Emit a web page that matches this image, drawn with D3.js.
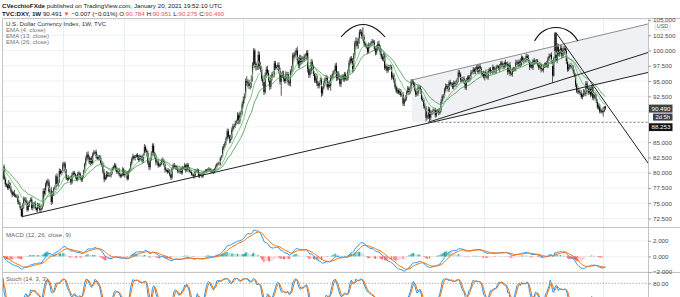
<!DOCTYPE html>
<html><head><meta charset="utf-8">
<script src="https://cdn.jsdelivr.net/npm/d3@7"></script>
<style>
body{margin:0;background:#fff}
svg{display:block}
text{font-family:"Liberation Sans",Arial,sans-serif}
</style>
</head><body>
<svg id="c" width="680" height="297"></svg>
<script>
// ---------- DATA ----------
const firstOpen = 79.0;
// weekly closes, week of 2011-01-03 .. week of 2021-01-18
const closes = [
// 2011
80.96,79.0,78.1,77.9, 77.5,78.3,77.5,76.9, 76.4,76.8,76.3,76.1, 76.2,75.2,74.9,74.2,72.9, 74.5,75.8,75.6,75.0, 73.9,74.8,75.3,75.6, 74.2,74.9,75.0,74.2,73.9, 74.6,74.6,73.9,74.1, 74.7,77.0,76.5,78.1,78.6, 78.4,76.9,77.1,75.2, 76.6,77.4,77.6,79.4, 78.1,78.6,80.3,79.9,80.2,
// 2012
81.3,81.5,80.3,79.1, 78.9,79.2,79.2,78.4, 79.6,80.0,79.7,79.3,78.9, 79.8,79.9,79.2,78.8, 79.4,80.2,81.4,82.3, 83.0,82.5,81.7,82.3,81.6, 83.0,83.3,83.4,82.7, 82.3,82.6,82.4,81.6,81.2, 80.1,78.9,79.3,79.9, 79.5,79.7,79.6,80.0, 80.6,81.0,81.2,80.6,80.1, 80.4,79.7,79.4,79.7,
// 2013
80.5,79.6,80.0,79.9, 79.0,80.2,80.5,81.5, 82.2,82.7,82.4,82.6,82.9, 82.5,82.1,82.7,82.5, 81.9,83.0,84.2,83.6,83.2, 81.6,80.9,82.2,83.1, 84.4,83.2,82.7,81.7, 81.9,81.1,81.3,81.4,82.1, 81.9,81.3,80.4,80.4, 80.1,80.4,79.7,79.2, 80.7,81.2,80.9,81.0,80.7, 80.2,80.2,80.6,80.0,
// 2014
80.8,80.7,81.2,80.4,81.3, 80.7,80.2,80.2,79.7, 79.7,79.4,80.2,80.2, 80.4,79.4,79.8,79.8, 79.4,79.9,80.1,80.3,80.4, 80.5,80.6,80.4,80.1, 80.3,80.1,80.6,81.0, 81.4,81.5,81.4,82.3,82.7, 84.0,84.3,84.8,85.6, 86.8,85.9,85.3,85.7,87.0, 87.6,87.6,88.1,88.4, 89.4,88.4,89.5,89.8,
// 2015
91.2,91.9,92.5,95.0,94.8, 94.6,94.1,94.4,95.3, 97.6,100.0,97.8,97.3, 97.4,99.3,97.5,96.9, 95.4,94.8,93.2,96.0,96.9, 96.3,95.2,94.1,95.5, 96.1,96.1,97.9,97.2,97.3, 97.6,96.6,94.9,95.9, 96.2,95.4,95.0,96.1, 96.1,94.8,94.6,96.6,96.9, 99.2,99.0,99.6,100.0, 98.4,97.6,98.7,98.1,
// 2016
98.7,98.5,99.0,99.0,99.6, 97.0,96.0,96.6,98.1, 97.3,96.2,95.1,95.8, 94.6,94.2,94.7,95.1,93.0, 93.9,94.6,95.3,95.5, 94.0,94.6,94.2,95.5, 95.7,96.3,96.6,97.5,95.5, 96.2,95.7,94.5,95.5, 95.8,95.3,96.1,95.4,95.4, 96.6,98.0,98.7,98.3, 97.0,99.2,101.2,101.5, 100.7,101.6,103.0,103.0,102.2,
// 2017
102.2,101.2,100.8,100.6, 99.8,100.8,100.9,101.1, 101.5,101.3,100.3,99.7,100.4, 101.1,100.5,99.8,99.0, 98.6,99.2,97.1,97.4, 96.7,97.3,97.2,97.3,95.6, 96.0,95.1,94.0,93.3, 93.5,93.1,93.4,92.7, 92.8,91.3,91.9,92.2,93.1, 93.8,93.1,93.7,94.9, 94.8,94.4,93.6,92.8, 93.0,93.9,93.9,93.3,92.1,
// 2018
91.9,90.9,90.6,89.0, 89.2,90.4,89.0,89.8, 89.9,90.1,90.2,89.4,90.0, 90.1,89.8,90.3,91.6, 92.5,92.5,93.6,94.2, 94.1,93.6,94.8,94.5,94.5, 94.0,94.7,94.4,94.7, 95.2,96.4,96.1,95.2,95.1, 95.4,94.9,93.9,95.1, 95.6,95.2,95.7,96.4, 96.5,96.9,96.5,96.9,97.3, 96.5,97.4,97.0,96.3,
// 2019
96.2,95.6,96.4,95.8, 95.6,96.6,96.9,96.5, 96.5,97.3,96.6,96.6,97.3, 97.4,97.0,97.4,98.0, 97.5,97.3,98.0,97.6,97.8, 96.5,97.6,96.2,96.1, 96.9,96.8,97.1,98.0, 98.1,97.5,98.2,97.7,98.9, 98.4,98.3,98.5,99.1, 98.8,98.3,97.3,97.8, 97.2,98.4,98.0,98.3,98.3, 97.7,97.2,97.7,96.9,
// 2020
96.8,97.4,97.6,97.9,97.4, 98.7,99.1,99.3,98.1, 95.9,98.7,102.8,98.4, 100.6,99.5,99.8,100.4, 99.1,99.7,100.4,99.9,98.3, 96.9,97.3,97.6,97.4, 97.2,96.6,95.9,94.4,93.3, 93.4,93.1,93.2,92.4, 92.7,93.3,92.9,94.6, 93.8,93.1,93.7,92.8,94.0, 92.2,92.8,92.4,91.8, 90.7,91.0,90.0,90.2,
// 2021
89.9,90.1,90.78,90.49
];
// upper / lower wick lengths per week, in tenths (base-36 digits), grouped by month, one string per year
const wickUp = [
"1432 3523 3242 32334 5324 3423 43242 5443 24532 4536 4233 53432",
"4333 3423 43323 3423 2324 45324 3424 32343 4534 3432 32433 3432",
"4332 3223 34232 3432 32533 4534 4423 32342 4323 3323 23432 3432",
"32423 3232 2342 3232 23232 2323 2323 23232 3433 44354 4343 5454",
"46548 5646 5434 5656 54645 6545 45443 4565 5545 44536 4544 6566",
"43454 5445 4445 44354 3434 4355 44345 4434 33434 3434 5447 55454",
"g434 4534 43445 4545 4543 34343 4343 4343 34453 4344 4343 34434",
"4343 3434 34343 3434 3434 34343 3434 34434 3434 3434 34343 4343",
"3525 2434 34253 3243 34253 4352 3425 34353 2434 3524 32423 3242",
"23424 3424 3321 6545 45434 4534 34343 4343 3434 43434 5434 3434",
"3612"
];
const wickDn = [
"1243 3323 4232 34231 2433 3242 34323 4534 23424 5345 3424 34323",
"3343 3234 34233 3423 3223 34352 3234 23423 3524 3234 32343 3332",
"3242 3233 32342 4323 33245 3542 3445 43232 3343 3234 32343 3243",
"32343 3232 3423 3232 32223 2232 2322 32222 2323 34543 3433 4545",
"45536 6455 4576 5654 46535 5464 45543 545n 4544 55454 4534 6555",
"34455 6545 5444 44436 4343 4538 44345 4545 34434 3434 6455 44543",
"6433 4343 43454 4354 3434 43434 3433 4343 34434 3434 3434 34343",
"3436 3474 34343 3434 3434 43434 3434 34543 3434 3434 34343 3434",
"4253 3424 24343 3253 24342 5342 4325 43242 3424 4352 24324 3425",
"24342 3423 c241 5454 43435 4343 34343 4343 4334 34343 3434 3433",
"2722"
];
const priceGridLevels = [72.5,75,77.5,80,82.5,85,87.5,90,92.5,95,97.5,100,102.5,105];
const priceTicks = [72.5,75,77.5,80,82.5,85,92.5,95,97.5,100,102.5,105];
const macdTicks = [2,0,-2];
const stochTicks = [80];
const yearStarts = [2012,2013,2014,2015,2016,2017,2018,2019,2020,2021];
const startDate = Date.UTC(2011,0,3);
const lastPrice = 90.490, countdown = "2d 5h", markedLevel = 88.253;
// drawings, in [week index, price]
const supportLine = [[16.3,72.79],[561,96.40]];
const lowLine2018 = [[369.7,88.25],[561,99.67]];
const channelTop = [[355.5,95.17],[561,104.34]];
const channelArea = [[355.5,95.17],[561,104.34],[561,96.4],[371,88.2],[355.5,88.3]];
const fallLine2020 = [[480.7,103.0],[561,81.58]];
const levelLine = [[371,88.253],[561,88.253]];
const arc2017 = [[294.0,102.21],[300.9,103.44],[313.1,104.26],[325.3,103.44],[332.3,102.21]];
const arc2020 = [[462.3,101.56],[468.8,103.03],[481.0,103.76],[493.2,103.03],[500.1,101.56]];

// ---------- BUILD ----------
function wicks(list){
  return list.join("").replace(/\s/g,"").split("").map(ch=>parseInt(ch,36)/10);
}
const wu=wicks(wickUp), wd=wicks(wickDn);
const bars = closes.map((c,i)=>{
  const o = i===0?firstOpen:closes[i-1];
  return {i,o,c,h:Math.max(o,c)+(wu[i]??0.3),l:Math.min(o,c)-(wd[i]??0.3)};
});
function ema(arr,n){const k=2/(n+1);const out=[];arr.forEach((v,i)=>out.push(i===0?v:v*k+out[i-1]*(1-k)));return out;}
const cl = bars.map(b=>b.c);
const e4=ema(cl,4), e13=ema(cl,13), e26=ema(cl,26);
const e12=ema(cl,12);
const macd = e12.map((v,i)=>v-e26[i]);
const sig = ema(macd,9);
const hist = macd.map((v,i)=>v-sig[i]);
const rawK = bars.map((b,i)=>{const w=bars.slice(Math.max(0,i-13),i+1);const hh=d3.max(w,d=>d.h),ll=d3.min(w,d=>d.l);return hh===ll?50:100*(b.c-ll)/(hh-ll);});
const sma=(a,n)=>a.map((v,i)=>d3.mean(a.slice(Math.max(0,i-n+1),i+1)));
const kS=sma(rawK,3), dS=sma(kS,3);

// ---------- SCALES ----------
const svg=d3.select("#c");
const L=2.5,R=648.5;
const x=d3.scaleLinear().domain([0,561]).range([3,648]);
const y=d3.scaleLinear().domain([72.5,100]).range([218.5,50.5]);
const yM=d3.scaleLinear().domain([-2,2]).range([272,240.8]);
const yS=d3.scaleLinear().domain([0,100]).range([309.7,276.7]);
const panes={main:[18.5,227.5],macd:[227.5,272.5],st:[272.5,297]};
const FONT='"Liberation Sans",Arial,sans-serif';

const defs=svg.append("defs");
Object.entries(panes).forEach(([k,[t,b]])=>{
  defs.append("clipPath").attr("id","cp-"+k).append("rect").attr("x",L).attr("y",t).attr("width",R-L).attr("height",b-t);
});
const gMain=svg.append("g").attr("clip-path","url(#cp-main)");
const gMacd=svg.append("g").attr("clip-path","url(#cp-macd)");
const gSt=svg.append("g").attr("clip-path","url(#cp-st)");

// grid
const yearIdx=yearStarts.map(yr=>Math.ceil((Date.UTC(yr,0,1)-startDate)/(7*864e5)));
[gMain,gMacd,gSt].forEach((g,k)=>{
  const p=Object.values(panes)[k];
  g.selectAll(".vg").data(yearIdx).enter().append("line")
    .attr("x1",d=>Math.round(x(d))+0.5).attr("x2",d=>Math.round(x(d))+0.5)
    .attr("y1",p[0]).attr("y2",p[1]).attr("stroke","#eaeef5").attr("stroke-width",1);
});
gMain.selectAll(".hg").data(priceGridLevels).enter().append("line")
  .attr("x1",L).attr("x2",R).attr("y1",d=>y(d)).attr("y2",d=>y(d))
  .attr("stroke","#eef1f6").attr("stroke-width",1);
gMacd.selectAll(".hg").data(macdTicks).enter().append("line")
  .attr("x1",L).attr("x2",R).attr("y1",d=>yM(d)).attr("y2",d=>yM(d))
  .attr("stroke","#eef1f6").attr("stroke-width",1);

// channel shading
const lineXY=d3.line().x(d=>x(d[0])).y(d=>y(d[1]));
gMain.append("path").attr("d",lineXY(channelArea)+"Z").attr("fill","#f0f1f4");

// candles
const cg=gMain.append("g");
cg.selectAll("line").data(bars).enter().append("line")
  .attr("x1",d=>x(d.i)).attr("x2",d=>x(d.i)).attr("y1",d=>y(d.h)).attr("y2",d=>y(d.l))
  .attr("stroke","#444").attr("stroke-width",0.9);
cg.selectAll("rect").data(bars).enter().append("rect")
  .attr("x",d=>x(d.i)-0.55).attr("width",1.1)
  .attr("y",d=>y(Math.max(d.o,d.c))).attr("height",d=>Math.max(0.8,Math.abs(y(d.o)-y(d.c))))
  .attr("fill",d=>d.c>=d.o?"#2a2a2a":"#000");

// EMAs
const emaLine=d3.line().x((d,i)=>x(i)).y(d=>y(d));
[[e4,"#9ad49e"],[e13,"#66b86d"],[e26,"#43944a"]].forEach(([s,c])=>{
  gMain.append("path").attr("d",emaLine(s)).attr("fill","none").attr("stroke",c).attr("stroke-width",0.8);
});

// drawings
gMain.append("path").attr("d",lineXY(channelTop)).attr("stroke","#707070").attr("stroke-width",0.8).attr("fill","none");
[supportLine,lowLine2018,fallLine2020].forEach(p=>{
  gMain.append("path").attr("d",lineXY(p)).attr("stroke","#222").attr("stroke-width",1).attr("fill","none");
});
gMain.append("path").attr("d",lineXY(levelLine)).attr("stroke","#555").attr("stroke-width",0.8).attr("stroke-dasharray","2,2").attr("fill","none");
const arcLine=d3.line().x(d=>x(d[0])).y(d=>y(d[1])).curve(d3.curveNatural);
[arc2017,arc2020].forEach(p=>{
  gMain.append("path").attr("d",arcLine(p)).attr("stroke","#111").attr("stroke-width",1.1).attr("fill","none");
});

// MACD pane
const hc=(h,p)=>h>=0?(h>p?"#26a69a":"#b2dfdb"):(h<p?"#ff5252":"#ffcdd2");
gMacd.selectAll("rect").data(hist).enter().append("rect")
  .attr("x",(d,i)=>x(i)-0.5).attr("width",1)
  .attr("y",d=>Math.min(yM(0),yM(d))).attr("height",d=>Math.abs(yM(d)-yM(0)))
  .attr("fill",(d,i)=>hc(d,i?hist[i-1]:0));
const mLine=d3.line().x((d,i)=>x(i)).y(d=>yM(d));
gMacd.append("path").attr("d",mLine(macd)).attr("fill","none").attr("stroke","#2196f3").attr("stroke-width",1);
gMacd.append("path").attr("d",mLine(sig)).attr("fill","none").attr("stroke","#ff6d00").attr("stroke-width",1);

// Stoch pane
gSt.selectAll(".sl").data(stochTicks).enter().append("line")
  .attr("x1",L).attr("x2",R).attr("y1",d=>yS(d)).attr("y2",d=>yS(d))
  .attr("stroke","#9a9a9a").attr("stroke-width",0.8).attr("stroke-dasharray","1.5,1.5");
const sLine=d3.line().x((d,i)=>x(i)).y(d=>yS(d));
gSt.append("path").attr("d",sLine(kS)).attr("fill","none").attr("stroke","#2196f3").attr("stroke-width",1);
gSt.append("path").attr("d",sLine(dS)).attr("fill","none").attr("stroke","#ff6d00").attr("stroke-width",1);

// frame
const fr=svg.append("g").attr("stroke","#c4c4c4").attr("stroke-width",1);
fr.append("line").attr("x1",L).attr("x2",680).attr("y1",18.5).attr("y2",18.5);
fr.append("line").attr("x1",L).attr("x2",680).attr("y1",227.5).attr("y2",227.5);
fr.append("line").attr("x1",L).attr("x2",680).attr("y1",272.5).attr("y2",272.5);
fr.append("line").attr("x1",L).attr("x2",L).attr("y1",18.5).attr("y2",297);
fr.append("line").attr("x1",R).attr("x2",R).attr("y1",18.5).attr("y2",297);

// axes
function styleAxis(g){
  g.attr("font-size",6.2).attr("font-family",FONT);
  g.select(".domain").remove();
  g.selectAll("line").attr("stroke","#9a9a9a");
  g.selectAll("text").attr("fill","#4a4a4a");
}
svg.append("g").attr("transform",`translate(${R},0)`)
  .call(d3.axisRight(y).tickValues(priceTicks).tickFormat(d3.format(".3f")).tickSize(2.5).tickPadding(2)).call(styleAxis);
svg.append("g").attr("transform",`translate(${R},0)`)
  .call(d3.axisRight(yM).tickValues(macdTicks).tickFormat(d=>d3.format(".3f")(d).replace("-","\u2212")).tickSize(2.5).tickPadding(2)).call(styleAxis);
svg.append("g").attr("transform",`translate(${R},0)`)
  .call(d3.axisRight(yS).tickValues(stochTicks).tickFormat(d3.format(".2f")).tickSize(2.5).tickPadding(2)).call(styleAxis);

// USD badge
svg.append("rect").attr("x",655).attr("y",22.3).attr("width",15).attr("height",7.6).attr("fill","#fff").attr("stroke","#c8c8c8").attr("stroke-width",0.6).attr("rx",1);
svg.append("text").attr("x",662.5).attr("y",28.1).attr("text-anchor","middle").attr("font-size",5.4).attr("fill","#555").text("USD");

// price label boxes
const yl=y(lastPrice);
svg.append("rect").attr("x",649).attr("y",yl-4).attr("width",23.5).attr("height",8).attr("fill","#3f4246");
svg.append("text").attr("x",651.5).attr("y",yl+2.2).attr("font-size",6.2).attr("fill","#fff").text(d3.format(".3f")(lastPrice));
svg.append("rect").attr("x",649).attr("y",yl+4.5).attr("width",23.5).attr("height",7.5).attr("fill","#fff");
svg.append("rect").attr("x",653).attr("y",yl+5).attr("width",19.5).attr("height",7).attr("fill","#3f4246");
svg.append("text").attr("x",662.7).attr("y",yl+10.4).attr("text-anchor","middle").attr("font-size",5.8).attr("fill","#fff").text(countdown);
const ym=y(markedLevel);
svg.append("rect").attr("x",649).attr("y",ym+1).attr("width",23.5).attr("height",7.8).attr("fill","#131313");
svg.append("text").attr("x",651.5).attr("y",ym+7).attr("font-size",6.2).attr("fill","#fff").text(d3.format(".3f")(markedLevel));

// header
const red="#ef5350";
const h1=svg.append("text").attr("x",2).attr("y",8).attr("font-size",6.2).attr("fill","#131722");
h1.append("tspan").attr("font-weight","bold").text("CVecchioFXde");
h1.append("tspan").text(" published on TradingView.com, January 20, 2021 19:52:10 UTC");
const h2=svg.append("text").attr("x",2).attr("y",15.8).attr("font-size",6.2).attr("fill","#131722");
h2.append("tspan").attr("font-weight","bold").text("TVC:DXY, 1W");
h2.append("tspan").text(" 90.491 ");
h2.append("tspan").attr("fill",red).text("\u25BC");
h2.append("tspan").text(" \u22120.007 (\u22120.01%) O:");
h2.append("tspan").attr("fill",red).text("90.784");
h2.append("tspan").text(" H:");
h2.append("tspan").attr("fill",red).text("90.951");
h2.append("tspan").text(" L:");
h2.append("tspan").attr("fill",red).text("90.275");
h2.append("tspan").text(" C:");
h2.append("tspan").attr("fill",red).text("90.490");

// legends
const legend=["U.S. Dollar Currency Index, 1W, TVC","EMA (4, close)","EMA (13, close)","EMA (26, close)"];
legend.forEach((t,k)=>{
  svg.append("text").attr("x",6).attr("y",26.3+k*6).attr("font-size",6.1).attr("fill",k===0?"#333":"#777").text(t);
});
svg.append("text").attr("x",6).attr("y",236.5).attr("font-size",6.1).attr("fill","#666").text("MACD (12, 26, close, 9)");
svg.append("text").attr("x",6).attr("y",281.3).attr("font-size",6.1).attr("fill","#666").text("Stoch (14, 3, 3)");
</script>
</body></html>
